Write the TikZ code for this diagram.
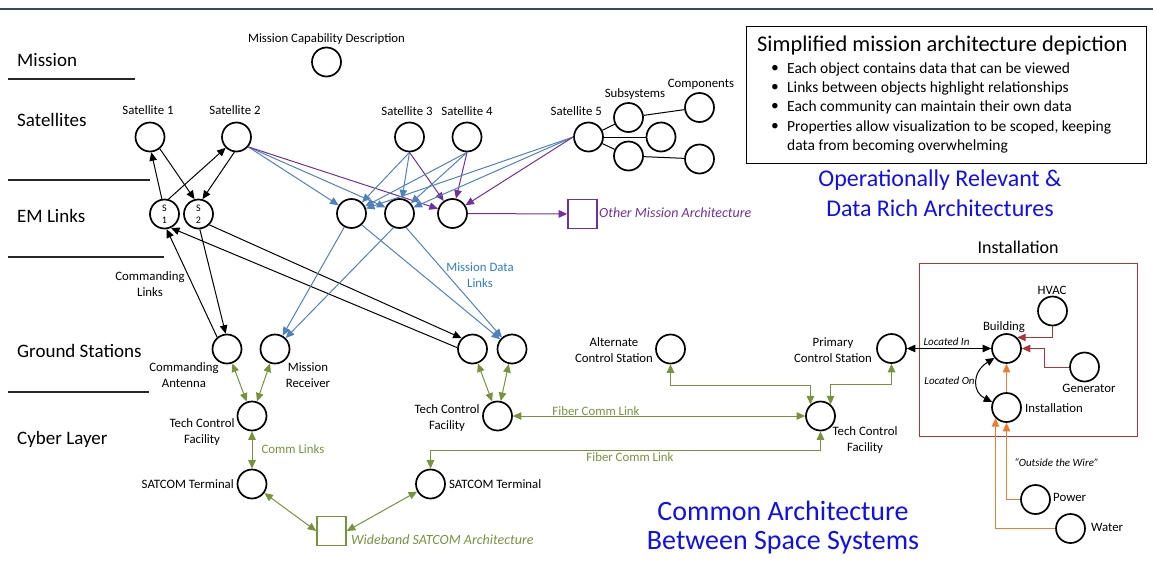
\documentclass[tikz,border=0pt]{standalone}
\usepackage{fontspec}
\setmainfont{Carlito}
\usetikzlibrary{arrows.meta,calc}
\definecolor{blueln}{RGB}{79,129,189}
\definecolor{bluetx}{RGB}{45,125,205}
\definecolor{purp}{RGB}{112,48,160}
\definecolor{grn}{RGB}{119,147,60}
\definecolor{bigblue}{RGB}{15,15,240}
\definecolor{dred}{RGB}{170,55,55}
\definecolor{orng}{RGB}{237,125,49}
\definecolor{topln}{RGB}{55,75,95}
\begin{document}
\begin{tikzpicture}[x=1pt,y=-1pt,
  circ/.style={circle,draw=black,line width=1.7pt,minimum size=29pt,inner sep=0pt},
  sqbox/.style={rectangle,line width=1.6pt,minimum size=29pt,inner sep=0pt},
  lbl/.style={font=\fontsize{12.8}{16}\selectfont,align=center,inner sep=0pt},
  ilbl/.style={font=\fontsize{11}{13}\selectfont\itshape,align=center,inner sep=0pt},
  layer/.style={font=\fontsize{19}{22}\selectfont,anchor=west,inner sep=0pt},
  bigtx/.style={text=bigblue,align=center,inner sep=0pt},
  tip/.tip={Triangle[length=8.5pt,width=7.5pt]},
  arr/.style={-tip,line width=1pt},
  darr/.style={tip-tip,line width=1pt},
  sepln/.style={line width=1.2pt,draw=black!85},
]
\useasboundingbox (0,0) rectangle (1153,568);
\draw[line width=2.5pt,topln] (0,9) -- (1153,9);

% layer labels
\node[layer] (lmission) at (17,60) {Mission};
\node[layer] (lsats) at (17,120) {Satellites};
\node[layer] (lem) at (17,216) {EM Links};
\node[layer] (lgs) at (17,351) {Ground Stations};
\node[layer] (lcyber) at (17,439) {Cyber Layer};
\coordinate (l1a) at (8,79); \coordinate (l1b) at (135,79);
\coordinate (l2a) at (8,180); \coordinate (l2b) at (150,180);
\coordinate (l3a) at (8,257); \coordinate (l3b) at (164,257);
\coordinate (l4a) at (8,392); \coordinate (l4b) at (149,392);
\draw[sepln] (l1a) -- (l1b);
\draw[sepln] (l2a) -- (l2b);
\draw[sepln] (l3a) -- (l3b);
\draw[sepln] (l4a) -- (l4b);

% mission
\node[circ] (mcd) at (326.5,62) {};
\node[lbl] (lmcd) at (326.5,39) {Mission Capability Description};

% satellites
\node[circ] (sat1) at (150,137) {};
\node[circ] (sat2) at (236.5,137) {};
\node[circ] (sat3) at (409.5,137) {};
\node[circ] (sat4) at (467,137) {};
\node[circ] (sat5) at (588.5,137) {};
\node[lbl] (lsat1) at (148,110) {Satellite 1};
\node[lbl] (lsat2) at (235,110) {Satellite 2};
\node[lbl] (lsat3) at (407,111) {Satellite 3};
\node[lbl] (lsat4) at (467,111) {Satellite 4};
\node[lbl,anchor=east] (lsat5) at (602,111) {Satellite 5};
\node[circ] (sub1) at (628.5,117.5) {};
\node[circ] (sub2) at (661,137) {};
\node[circ] (sub3) at (628.5,156) {};
\node[circ] (comp1) at (699.5,107.5) {};
\node[circ] (comp2) at (699.5,159) {};
\node[lbl] (lsub) at (635,94) {Subsystems};
\node[lbl] (lcomp) at (701,84) {Components};
\draw[line width=1pt] (sat5) -- (sub1);
\draw[line width=1pt] (sat5) -- (sub2);
\draw[line width=1pt] (sat5) -- (sub3);
\draw[line width=1pt] (sub1) -- (comp1);
\draw[line width=1pt] (sub3) -- (comp2);

% EM links
\node[circ,font=\fontsize{10}{12}\selectfont,align=center] (s1) at (164.5,214) {S\\1};
\node[circ,font=\fontsize{10}{12}\selectfont,align=center] (s2) at (198.5,214) {S\\2};
\node[circ] (em1) at (351.5,213.5) {};
\node[circ] (em2) at (399.5,213.5) {};
\node[circ] (em3) at (452.5,213.5) {};
\node[sqbox,draw=purp] (oma) at (582.5,214) {};
\node[font=\fontsize{14}{16}\selectfont\itshape,text=purp,anchor=west,inner sep=0pt] (loma) at (599,213) {Other Mission Architecture};

% ground stations
\node[circ] (gs1) at (227,349) {};
\node[circ] (gs2) at (275,349) {};
\node[circ] (gs3) at (472.5,349) {};
\node[circ] (gs4) at (512,349) {};
\node[lbl] (lgs1) at (184,375) {Commanding\\Antenna};
\node[lbl] (lgs2) at (308,375) {Mission\\Receiver};
\node[lbl] (lcl) at (150,284) {Commanding\\Links};
\node[lbl,text=bluetx] (lmdl) at (480,275) {Mission Data\\Links};
\node[circ] (alt) at (670.5,349) {};
\node[lbl] (lalt) at (614,350) {Alternate\\Control Station};
\node[circ] (prim) at (891.5,348.5) {};
\node[lbl] (lprim) at (833,350) {Primary\\Control Station};

% cyber
\node[circ] (tcf1) at (252,416) {};
\node[lbl] (ltcf1) at (202,432) {Tech Control\\Facility};
\node[circ] (satc1) at (252,484) {};
\node[lbl,anchor=east] (lsatc1) at (234,484) {SATCOM Terminal};
\node[lbl,text=grn] (lcomm) at (293,449) {Comm Links};
\node[sqbox,draw=grn] (wide) at (331.5,531) {};
\node[font=\fontsize{14}{16}\selectfont\itshape,text=grn,anchor=west,inner sep=0pt] (lwide) at (351,540) {Wideband SATCOM Architecture};
\node[circ] (tcf2) at (497.5,416) {};
\node[lbl] (ltcf2) at (447,418) {Tech Control\\Facility};
\node[circ] (satc2) at (430.5,484) {};
\node[lbl,anchor=west] (lsatc2) at (449,484) {SATCOM Terminal};
\node[circ] (tcf3) at (820.5,416) {};
\node[lbl] (ltcf3) at (865,440) {Tech Control\\Facility};
\node[lbl,text=grn] (lfib1) at (596,411) {Fiber Comm Link};
\node[lbl,text=grn] (lfib2) at (630,457) {Fiber Comm Link};
\coordinate (fib2) at (820.5,450);

% installation
\node[draw=dred,line width=1.2pt,minimum width=218pt,minimum height=173pt,anchor=north west,inner sep=0pt] (instbox) at (919,263) {};
\node[font=\fontsize{18}{20}\selectfont,inner sep=0pt] (linst) at (1018,247) {Installation};
\node[circ] (hvac) at (1052.5,311) {};
\node[lbl] (lhvac) at (1052,290) {HVAC};
\node[circ] (bldg) at (1006.5,348.5) {};
\node[lbl] (lbldg) at (1004,327) {Building};
\node[circ] (gen) at (1084.5,367) {};
\node[lbl] (lgen) at (1089,388) {Generator};
\node[circ] (inst) at (1006.5,407.5) {};
\node[lbl,anchor=west] (linst2) at (1025,408) {Installation};
\node[circ] (power) at (1035.5,499.5) {};
\node[lbl,anchor=west] (lpower) at (1053,497) {Power};
\node[circ] (water) at (1070.5,528.5) {};
\node[lbl,anchor=west] (lwater) at (1091,527) {Water};
\node[ilbl] (llocin) at (946.5,342) {Located In};
\node[ilbl] (llocon) at (949.5,381) {Located On};
\node[ilbl] (lwire) at (1056.5,463) {“Outside the Wire”};

% info box
\node[draw=black,line width=1.3pt,minimum width=400pt,minimum height=137pt,anchor=north west,inner sep=0pt] (infobox) at (746,26) {};
\node[font=\fontsize{22.4}{24}\selectfont,anchor=west,inner sep=0pt] (ititle) at (757,46) {Simplified mission architecture depiction};
\foreach \n/\y/\t in {b1/69/Each object contains data that can be viewed,
                      b2/88/Links between objects highlight relationships,
                      b3/107/Each community can maintain their own data,
                      b4/127/{Properties allow visualization to be scoped, keeping}}{
  \node[font=\fontsize{15.5}{18}\selectfont,inner sep=0pt] (dot\n) at (775,\y) {•};
  \node[font=\fontsize{15.5}{18}\selectfont,anchor=west,inner sep=0pt] (txt\n) at (787,\y) {\t};
}
\node[font=\fontsize{15.5}{18}\selectfont,anchor=west,inner sep=0pt] (txtb5) at (787,146) {data from becoming overwhelming};

% big blue texts
\node[bigtx,font=\fontsize{24}{28}\selectfont] (opr1) at (940,180) {Operationally Relevant \&};
\node[bigtx,font=\fontsize{24}{28}\selectfont] (opr2) at (940,208) {Data Rich Architectures};
\node[bigtx,font=\fontsize{28}{32}\selectfont] (com1) at (783,511) {Common Architecture};
\node[bigtx,font=\fontsize{28}{32}\selectfont] (com2) at (783,543) {Between Space Systems};

% black commanding links
\draw[arr] (s1.100) -- (sat1.275);
\draw[arr] (s1.75) -- (sat2.225);
\draw[arr] (sat1.310) -- (s2.105);
\draw[arr] (sat2.262) -- (s2.75);
\draw[arr] (s2.275) -- (gs1.95);
\draw[arr] (gs1.130) -- (s1.278);
\draw[arr] (s2.315) -- (gs3.135);
\draw[arr] (gs3.175) -- (s1.295);

% blue and purple satellite links
\foreach \s/\a in {sat2/-40, sat3/-90, sat4/-90, sat5/180}{
  \draw[arr,blueln] (\s.\a) -- (em1);
  \draw[arr,blueln] (\s.\a) -- (em2);
  \draw[arr,purp] (\s.\a) -- (em3);
}
\draw[arr,purp] (em3) -- (oma);
\draw[arr,blueln] (em1.242) -- (gs2);
\draw[arr,blueln] (em2.247) -- (gs2);
\draw[arr,blueln] (em1.312) -- (gs4);
\draw[arr,blueln] (em2.295) -- (gs4);

% green comm links
\draw[darr,grn] (gs1) -- (tcf1);
\draw[darr,grn] (gs2) -- (tcf1);
\draw[darr,grn] (tcf1) -- (satc1);
\draw[darr,grn] (satc1) -- (wide.west);
\draw[darr,grn] (satc2) -- (wide.east);
\draw[darr,grn] (gs3) -- (tcf2);
\draw[darr,grn] (gs4) -- (tcf2);
\draw[darr,grn] (tcf2) -- (tcf3);
\draw[darr,grn] (tcf3.south) -- (fib2) -| (satc2.north);
\draw[darr,grn] (alt.south) -- ++(0,21) -| (tcf3.131);
\draw[darr,grn] (prim.south) -- ++(0,21) -| (tcf3.49);

% installation links
\draw[darr,black] (prim) -- (bldg);
\draw[darr,black] (bldg.218) .. controls (972,372) and (972,392) .. (inst.159);
\draw[arr,dred] (hvac.south) |- (bldg.46);
\draw[arr,dred] (gen.west) -- ++(-25,0) |- (bldg.east);
\draw[arr,orng] (inst) -- (bldg);
\draw[arr,orng] (power.west) -| (inst.south);
\draw[arr,orng] (water.west) -| (inst.224);
\end{tikzpicture}
\end{document}
